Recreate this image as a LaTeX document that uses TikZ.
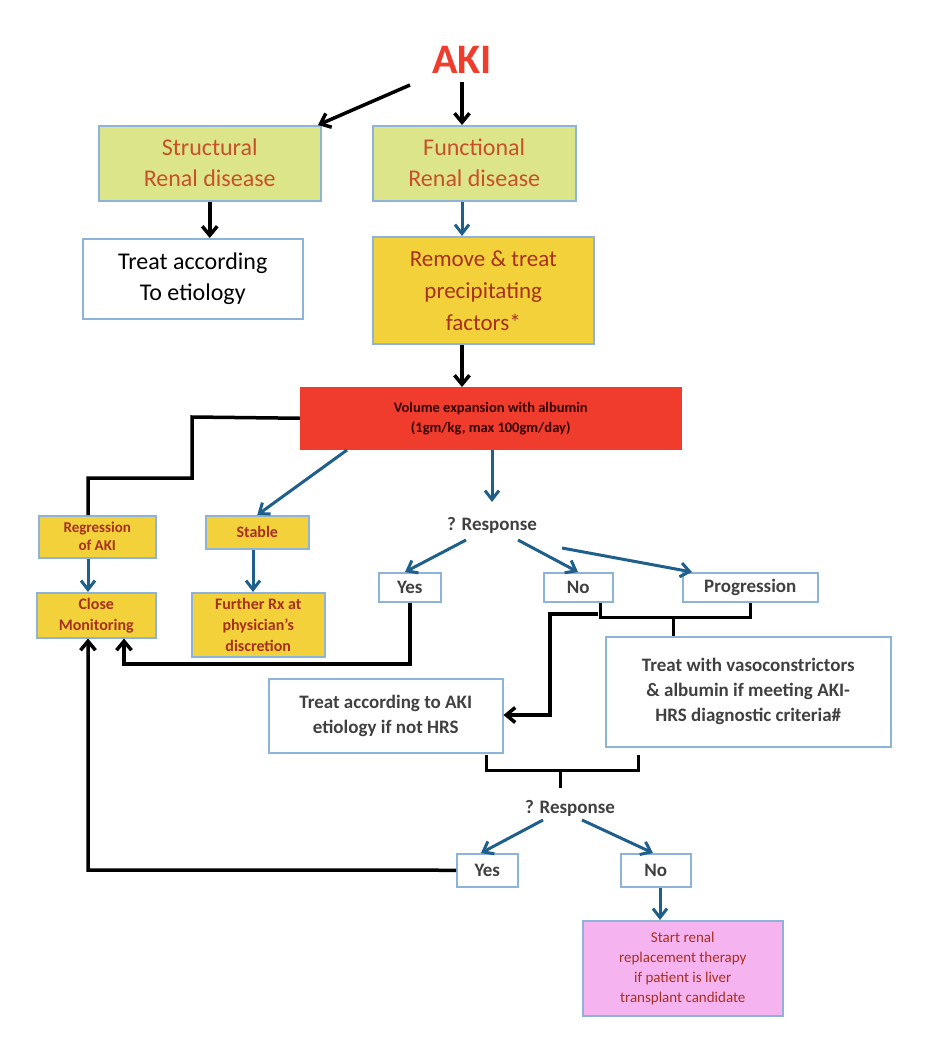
\documentclass[tikz,border=0pt]{standalone}
\usepackage{fontspec}
\setmainfont{Carlito}
\usetikzlibrary{arrows.meta}
\definecolor{bord}{HTML}{8DB3D9}
\definecolor{olive}{HTML}{DDE58A}
\definecolor{gold}{HTML}{F2D13A}
\definecolor{redb}{HTML}{F03C2D}
\definecolor{pinkb}{HTML}{F5B3F0}
\definecolor{ortxt}{HTML}{C8502A}
\definecolor{drtxt}{HTML}{A83020}
\definecolor{blu}{HTML}{1F5F8B}
\begin{document}
\begin{tikzpicture}[x=1pt,y=-1pt,
  box/.style={draw=bord,line width=1.5pt,inner sep=0pt,align=center},
  bx/.style args={#1/#2/#3/#4}{box,minimum width=#3-#1,minimum height=#4-#2,anchor=north west,at={(#1,#2)}},
  big/.style={font=\fontsize{24}{31}\selectfont},
  sm/.style={font=\fontsize{15}{18}\selectfont\bfseries,text=drtxt},
  yn/.style={font=\fontsize{19}{21}\selectfont\bfseries,text=black!75},
  ba/.style={-{Straight Barb[length=9pt,width=15pt]},line width=3.5pt,black},
  bl/.style={-{Straight Barb[length=9pt,width=14pt]},line width=3pt,blu},
  bk/.style={line width=3.5pt,black}]
\useasboundingbox (0,0) rectangle (931,1042);
\node[text=redb,font=\fontsize{42}{46}\selectfont\bfseries] (aki) at (462,60) {AKI};
\node[bx=98/125/320/200,fill=olive,big,text=ortxt] (str) {Structural\\Renal disease};
\node[bx=372/125/575/200,fill=olive,big,text=ortxt] (fun) {Functional\\Renal disease};
\node[bx=82/238/302/318,big,text=black] (tre) {Treat according\\To etiology};
\node[bx=372/236/593/343,fill=gold,big,text=drtxt,font=\fontsize{23}{32}\selectfont] (rem) {Remove \& treat\\precipitating\\factors*};
\node[bx=300/387/680/448,fill=redb,draw=redb,font=\fontsize{14.5}{20}\selectfont\bfseries,text=black!80!red] (vol) {Volume expansion with albumin\\(1gm/kg, max 100gm/day)};
\node[bx=38/515/155/557,fill=gold,sm] (reg) {Regression\\of AKI};
\node[bx=36/592/155/637,fill=gold,sm,font=\fontsize{16}{21}\selectfont\bfseries] (clo) {Close\\Monitoring};
\node[bx=205/515/308/548,fill=gold,sm,font=\fontsize{16}{19}\selectfont\bfseries] (sta) {Stable};
\node[bx=191/592/324/656,fill=gold,sm,font=\fontsize{16}{21}\selectfont\bfseries] (fur) {Further Rx at\\physician's\\discretion};
\node[font=\fontsize{19}{22}\selectfont\bfseries,text=black!75] (r1) at (492,525) {? Response};
\node[bx=378/572/440/601,yn] (y1) {Yes};
\node[bx=543/572/612/601,yn] (n1) {No};
\node[bx=682/572/817/601,yn] (pr) {Progression};
\node[bx=268/678/502/752,font=\fontsize{19}{25}\selectfont\bfseries,text=black!75] (tak) {Treat according to AKI\\etiology if not HRS};
\node[bx=605/636/890/746,font=\fontsize{19}{25}\selectfont\bfseries,text=black!75] (tva) {Treat with vasoconstrictors\\\& albumin if meeting AKI-\\HRS diagnostic criteria\#};
\node[font=\fontsize{19}{22}\selectfont\bfseries,text=black!75] (r2) at (570,808) {? Response};
\node[bx=456/853/517/886,yn] (y2) {Yes};
\node[bx=620/853/690/886,yn] (n2) {No};
\node[bx=582/920/782/1015,fill=pinkb,font=\fontsize{15}{20}\selectfont,text=drtxt] (rrt) {Start renal\\replacement therapy\\if patient is liver\\transplant candidate};
% connectors
\coordinate (a1) at (410,85);
\coordinate (a2) at (462,82);
\draw[ba] (a1) -- (318,125);
\draw[ba] (a2) -- (fun.north -| a2);
\draw[ba] (str.south) -- (tre.north -| str.south);
\draw[bl] (fun.south -| a2) -- (rem.north -| a2);
\draw[ba] (rem.south -| a2) -- (vol.north -| a2);
\draw[bk] (vol.west) -- (192,417) -- (192,478) -- (88,478) -- (reg.north -| 88,0);
\draw[bl] (reg.south -| 88,0) -- (clo.north -| 88,0);
\draw[bl] (347,450) -- (sta.north);
\draw[bl] (sta.south -| 253,0) -- (fur.north -| 253,0);
\draw[bl] (vol.south -| 492,0) -- (492,502);
\draw[bl] (466,540) -- (y1.north -| 405,0);
\draw[bl] (518,540) -- (n1.north -| 578,0);
\draw[bl] (562,548) -- (pr.north -| 692,0);
\draw[ba] (y1.south -| 410,0) -- (410,664) -- (124,664) -- (clo.south -| 124,0);
\draw[line width=3pt,black] (n1.south -| 600,0) -- (600,617) -- (750,617) -- (pr.south -| 750,0);
\draw[line width=3pt,black] (673,617) -- (tva.north -| 673,0);
\draw[ba] (598,614) -- (550,614) -- (550,715) -- (tak.east |- 0,715);
\draw[line width=3pt,black] (486,755) -- (486,770) -- (638,770) -- (638,755);
\draw[line width=3pt,black] (560,770) -- (560,788);
\draw[bl] (543,820) -- (y2.north -| 481,0);
\draw[bl] (582,820) -- (n2.north -| 653,0);
\draw[ba] (y2.west) -- (88,870) -- (clo.south -| 88,0);
\draw[bl] (n2.south -| 660,0) -- (rrt.north -| 660,0);
\end{tikzpicture}
\end{document}
